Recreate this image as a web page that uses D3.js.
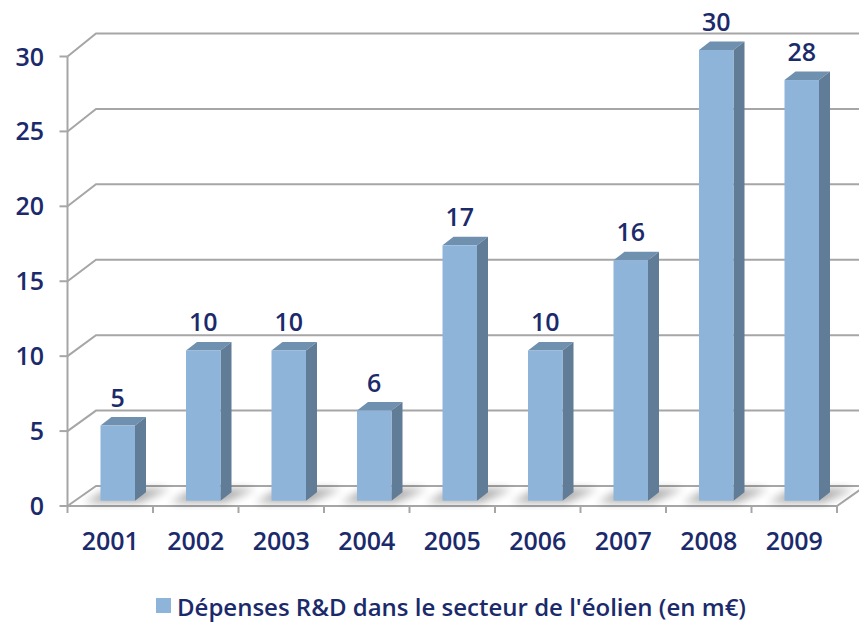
<!DOCTYPE html>
<html>
<head>
<meta charset="utf-8">
<script src="https://cdn.jsdelivr.net/npm/d3@7"></script>
<style>
  body { margin: 0; background: #fff; }
  svg { display: block; }
  text { font-family: "Open Sans", sans-serif; font-weight: 600; fill: #1b2a6b; }
</style>
</head>
<body>
<svg id="chart" width="859" height="623"></svg>
<script>
  const years = ['2001', '2002', '2003', '2004', '2005', '2006', '2007', '2008', '2009'];
  const values = [5, 10, 10, 6, 17, 10, 16, 30, 28];
  const yTicks = [0, 5, 10, 15, 20, 25, 30];
  const seriesName = "Dépenses R&D dans le secteur de l'éolien (en m€)";

  const svg = d3.select('#chart');
  const defs = svg.append('defs');
  defs.append('filter').attr('id', 'blur').attr('x', '-50%').attr('y', '-50%').attr('width', '200%').attr('height', '200%')
    .append('feGaussianBlur').attr('stdDeviation', 4);

  // front plane / back wall / bars scales
  const x = d3.scaleBand().domain(years).range([67.5, 837]);
  const yFront = d3.scaleLinear().domain([0, 30]).range([506, 56.5]);
  const yBack = d3.scaleLinear().domain([0, 30]).range([486, 33.5]);
  const yBar = d3.scaleLinear().domain([0, 30]).range([500.7, 50]);
  const depthX = 28.5;
  const gridColor = '#a6a6a6';

  // gridlines: front edge -> back wall -> right edge
  svg.append('g').selectAll('path')
    .data(yTicks)
    .enter().append('path')
    .attr('d', d => `M${x.range()[0]},${yFront(d)}L${x.range()[0] + depthX},${yBack(d)}L870,${yBack(d)}`)
    .attr('fill', 'none')
    .attr('stroke', gridColor)
    .attr('stroke-width', 2);

  // floor front and right edges
  const x0 = x.range()[0], x1 = x.range()[1];
  svg.append('path')
    .attr('d', `M${x0},${yFront(0)}L${x1},${yFront(0)}L${x1 + depthX},${yBack(0)}`)
    .attr('fill', 'none')
    .attr('stroke', gridColor)
    .attr('stroke-width', 2);

  // left axis
  svg.append('line')
    .attr('x1', x0).attr('x2', x0)
    .attr('y1', yFront(30)).attr('y2', yFront(0))
    .attr('stroke', gridColor).attr('stroke-width', 2);

  svg.append('g').selectAll('line')
    .data(yTicks)
    .enter().append('line')
    .attr('x1', x0 - 8).attr('x2', x0)
    .attr('y1', d => yFront(d)).attr('y2', d => yFront(d))
    .attr('stroke', gridColor).attr('stroke-width', 2);

  svg.append('g').selectAll('line')
    .data(years.concat(['end']))
    .enter().append('line')
    .attr('x1', (d, i) => x0 + i * x.step()).attr('x2', (d, i) => x0 + i * x.step())
    .attr('y1', yFront(0)).attr('y2', yFront(0) + 7)
    .attr('stroke', gridColor).attr('stroke-width', 2);

  svg.append('g').selectAll('text')
    .data(yTicks)
    .enter().append('text')
    .attr('x', 44)
    .attr('y', d => yFront(d))
    .attr('dy', '0.36em')
    .attr('text-anchor', 'end')
    .attr('font-size', 25)
    .text(d => d);

  svg.append('g').selectAll('text')
    .data(years)
    .enter().append('text')
    .attr('x', d => x(d) + x.bandwidth() / 2)
    .attr('y', 541)
    .attr('dy', '0.36em')
    .attr('text-anchor', 'middle')
    .attr('font-size', 25)
    .text(d => d);

  // bars
  const barW = 34.5, bx = 11, by = -8.5, shift = 7.5;
  const data = years.map((d, i) => ({ year: d, value: values[i] }));
  const left = d => x(d.year) + x.bandwidth() / 2 - barW / 2 + shift;

  svg.append('g').selectAll('path')
    .data(data)
    .enter().append('path')
    .attr('d', d => {
      const l = left(d), b = yBar(0);
      return `M${l - 16},${b + 2}L${l + barW + 4},${b + 2}L${l + barW + bx + 24},${b - 12}L${l + 8},${b - 12}Z`;
    })
    .attr('fill', '#000')
    .attr('opacity', 0.32)
    .attr('filter', 'url(#blur)');

  const bars = svg.append('g').selectAll('g')
    .data(data)
    .enter().append('g');

  bars.append('path')
    .attr('d', d => {
      const l = left(d), t = yBar(d.value);
      return `M${l},${t}L${l + bx},${t + by}L${l + barW + bx},${t + by}L${l + barW},${t}Z`;
    })
    .attr('fill', '#7090b0');

  bars.append('path')
    .attr('d', d => {
      const r = left(d) + barW, t = yBar(d.value), b = yBar(0);
      return `M${r},${t}L${r + bx},${t + by}L${r + bx},${b + by}L${r},${b}Z`;
    })
    .attr('fill', '#617c96');

  bars.append('rect')
    .attr('x', d => left(d))
    .attr('y', d => yBar(d.value))
    .attr('width', barW)
    .attr('height', d => yBar(0) - yBar(d.value))
    .attr('fill', '#8fb4d9');

  bars.append('text')
    .attr('x', d => left(d) + barW / 2)
    .attr('y', d => yBar(d.value) - 19)
    .attr('text-anchor', 'middle')
    .attr('font-size', 25)
    .text(d => d.value);

  // legend
  const legend = svg.append('g');
  legend.append('rect')
    .attr('x', 156).attr('y', 598).attr('width', 15).attr('height', 15)
    .attr('fill', '#8fb4d9');
  legend.append('text')
    .attr('x', 177).attr('y', 616)
    .attr('font-size', 24)
    .text(seriesName);
</script>
</body>
</html>
